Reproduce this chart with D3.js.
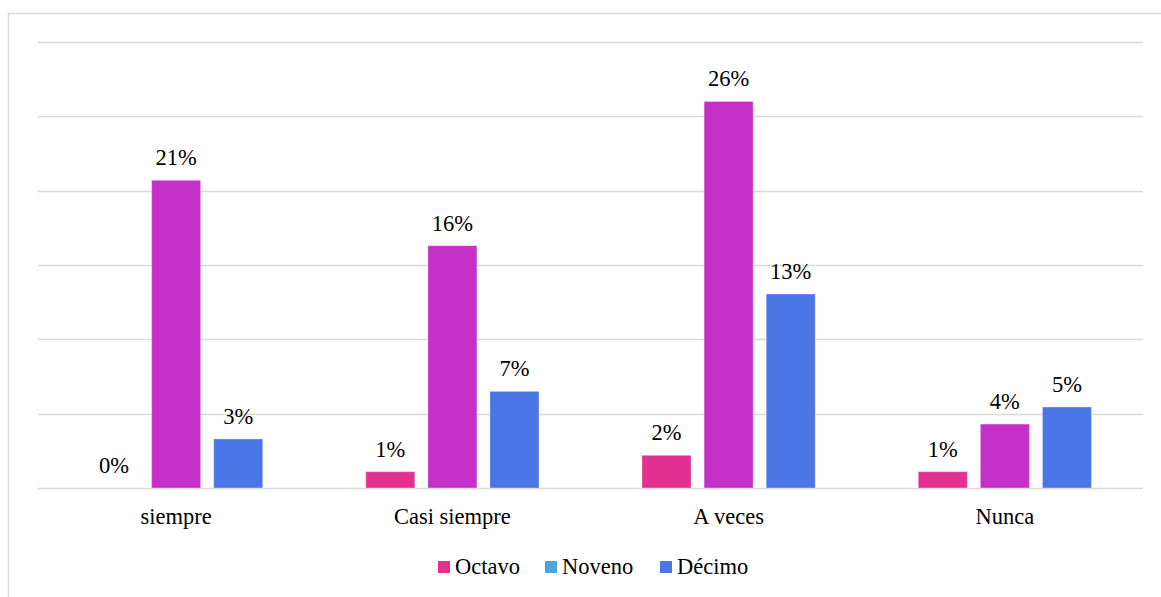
<!DOCTYPE html>
<html>
<head>
<meta charset="utf-8">
<script src="https://cdn.jsdelivr.net/npm/d3@7"></script>
<style>
  body { margin: 0; background: #fff; }
</style>
</head>
<body>
<div id="chart"></div>
<script>
// datos
var categorias = ["siempre", "Casi siempre", "A veces", "Nunca"];
var series = ["Octavo", "Noveno", "Décimo"];
var octavo = [0, 1.1, 2.2, 1.1];
var noveno = [20.7, 16.3, 26, 4.3];
var decimo = [3.3, 6.5, 13.05, 5.45];
var etiquetasOctavo = ["0%", "1%", "2%", "1%"];
var etiquetasNoveno = ["21%", "16%", "26%", "4%"];
var etiquetasDecimo = ["3%", "7%", "13%", "5%"];
var yTicks = [0, 5, 10, 15, 20, 25, 30];

var colorBarra = { "Octavo": "#e33192", "Noveno": "#c530c8", "Décimo": "#4a76e6" };
var colorLeyenda = { "Octavo": "#e33192", "Noveno": "#4ea5dc", "Décimo": "#4a76e6" };
var fuente = "'Liberation Serif'";

var W = 1161, H = 597;
var margin = { top: 42, right: 18, bottom: 109, left: 38 },
    width = W - margin.left - margin.right,
    height = H - margin.top - margin.bottom;

var svg0 = d3.select("#chart").append("svg")
    .attr("width", W)
    .attr("height", H);

// marco
svg0.append("path")
    .attr("d", "M8.5," + H + "V13.5H" + W)
    .attr("fill", "none")
    .attr("stroke", "#d9d9d9")
    .attr("stroke-width", 1.5);

var svg = svg0.append("g")
    .attr("transform", "translate(" + margin.left + "," + margin.top + ")");

var data = categorias.map(function (c, i) {
    return {
        cat: c,
        valores: [
            { serie: "Octavo", v: octavo[i], label: etiquetasOctavo[i] },
            { serie: "Noveno", v: noveno[i], label: etiquetasNoveno[i] },
            { serie: "Décimo", v: decimo[i], label: etiquetasDecimo[i] }
        ]
    };
});

var x0 = d3.scaleBand()
    .domain(categorias)
    .range([0, width])
    .paddingInner(0.373)
    .paddingOuter(0.1865);

var x1 = d3.scaleBand()
    .domain(series)
    .range([0, x0.bandwidth()])
    .paddingInner(0.21)
    .paddingOuter(0);

var y = d3.scaleLinear().domain([0, 30]).range([height, 0]);

// lineas de cuadricula
svg.append("g")
    .selectAll("line")
    .data(yTicks)
    .enter().append("line")
    .attr("x1", 0)
    .attr("x2", width)
    .attr("y1", function (d) { return Math.round(y(d)) + 0.5; })
    .attr("y2", function (d) { return Math.round(y(d)) + 0.5; })
    .attr("stroke", "#d9d9d9")
    .attr("stroke-width", 1.5);

var grupos = svg.selectAll(".grupo")
    .data(data)
    .enter().append("g")
    .attr("class", "grupo")
    .attr("transform", function (d) { return "translate(" + x0(d.cat) + ",0)"; });

grupos.selectAll("rect")
    .data(function (d) { return d.valores; })
    .enter().append("rect")
    .attr("x", function (d) { return x1(d.serie); })
    .attr("width", x1.bandwidth())
    .attr("y", function (d) { return y(d.v); })
    .attr("height", function (d) { return height - y(d.v); })
    .attr("fill", function (d) { return colorBarra[d.serie]; })
    .attr("stroke", "rgba(255,255,255,0.35)")
    .attr("stroke-width", 1);

grupos.selectAll(".etq")
    .data(function (d) { return d.valores; })
    .enter().append("text")
    .attr("class", "etq")
    .attr("text-anchor", "middle")
    .attr("x", function (d) { return x1(d.serie) + x1.bandwidth() / 2; })
    .attr("y", function (d) { return y(d.v) - 15; })
    .style("font-family", fuente)
    .style("font-size", "22.5px")
    .style("fill", "#000")
    .text(function (d) { return d.label; });

// eje x (solo etiquetas)
svg.append("g")
    .selectAll("text")
    .data(categorias)
    .enter().append("text")
    .attr("text-anchor", "middle")
    .attr("x", function (d) { return x0(d) + x0.bandwidth() / 2; })
    .attr("y", height + 36)
    .style("font-family", fuente)
    .style("font-size", "22.5px")
    .style("fill", "#000")
    .text(function (d) { return d; });

// leyenda
var leyX = [438, 545, 660];
var ley = svg0.append("g");
series.forEach(function (s, i) {
    ley.append("rect")
        .attr("x", leyX[i])
        .attr("y", 561)
        .attr("width", 12)
        .attr("height", 12)
        .attr("fill", colorLeyenda[s]);
    ley.append("text")
        .attr("x", leyX[i] + 17)
        .attr("y", 574)
        .style("font-family", fuente)
        .style("font-size", "22.5px")
        .style("fill", "#000")
        .text(s);
});
</script>
</body>
</html>
